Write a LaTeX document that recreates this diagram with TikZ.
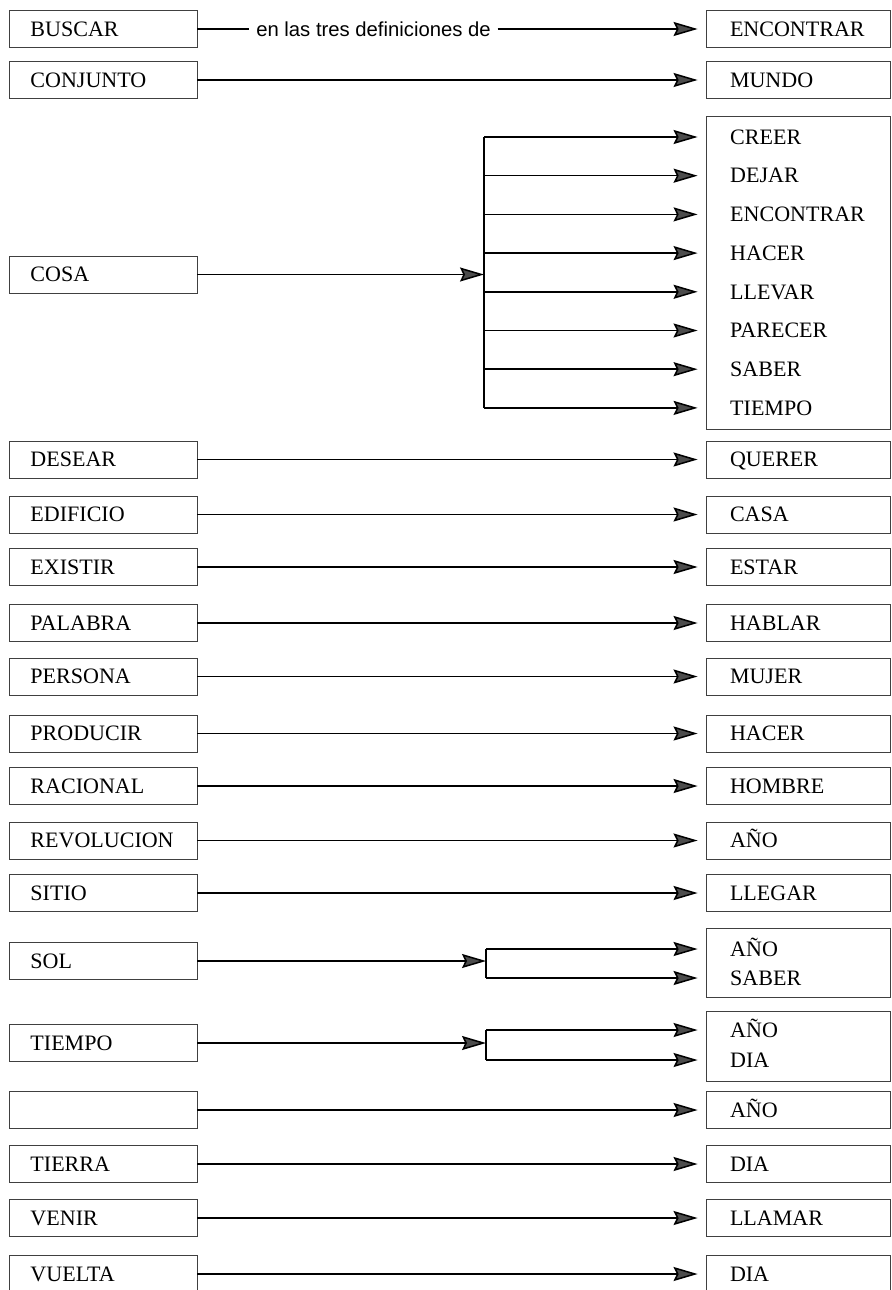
\documentclass[tikz,border=0pt]{standalone}
\usepackage{fontspec}
\setmainfont{Liberation Serif}
\newfontfamily\viafont{Liberation Sans}
\usetikzlibrary{arrows.meta}

\tikzset{
  word/.style={draw=black!75, line width=0.7pt, rectangle, align=left,
    minimum height=1.11cm, text height=12.4pt, text depth=0pt,
    font=\fontsize{18.8}{22}\selectfont},
  lbox/.style={word, text width=4.35cm, inner xsep=0.645cm, minimum width=5.64cm},
  rbox/.style={word, text width=4.08cm, inner xsep=0.72cm, minimum width=5.52cm},
  listbox/.style={draw=black!75, line width=0.7pt, minimum width=5.52cm, inner sep=0pt},
  entry/.style={anchor=west, inner sep=0pt, text height=12.4pt, text depth=0pt,
    font=\fontsize{18.8}{22}\selectfont},
  arr/.style={line width=1.3pt,
    -{Stealth[length=0.72cm,width=0.42cm,inset=0.1cm,fill=black!70]},
    shorten >=0.24cm},
  fork/.style={line width=1.3pt},
}

\begin{document}
\begin{tikzpicture}[x=0.03cm, y=-0.03cm]
  \clip (0,0) rectangle (891,1290);

  % first row, with the remark on the arrow
  \node[lbox] (buscar) at (103,29) {BUSCAR};
  \node[rbox] (buscar-r) at (798,29) {ENCONTRAR};
  \node[font=\viafont\fontsize{17.3}{20}\selectfont, fill=white,
    inner xsep=0.2cm, inner ysep=0pt] (via) at (373.5,29) {en las tres definiciones de};
  \draw[arr] (buscar) -- (via) -- (buscar-r);

  % one word to one word
  \foreach \y/\a/\b/\n in {80/CONJUNTO/MUNDO/conjunto,
      459.5/DESEAR/QUERER/desear, 514.5/EDIFICIO/CASA/edificio,
      567/EXISTIR/ESTAR/existir, 623/PALABRA/HABLAR/palabra,
      676.5/PERSONA/MUJER/persona, 733.5/PRODUCIR/HACER/producir,
      786/RACIONAL/HOMBRE/racional, 840.5/REVOLUCION/AÑO/revolucion,
      893/SITIO/LLEGAR/sitio, 1110/ /AÑO/vacio,
      1164/TIERRA/DIA/tierra, 1218/VENIR/LLAMAR/venir,
      1274/VUELTA/DIA/vuelta}{
    \node[lbox] (\n) at (103,\y) {\a};
    \node[rbox] (\n-r) at (798,\y) {\b};
    \draw[arr] (\n) -- (\n-r);
  }

  % COSA
  \node[lbox] (cosa) at (103,274.5) {COSA};
  \node[listbox, minimum height=9.39cm] (cosa-r) at (798,272.5) {};
  \coordinate (cosa-fork) at (484,274.5);
  \draw[arr, shorten >=0pt] (cosa) -- (cosa-fork);
  \foreach \w [count=\i from 0] in {CREER,DEJAR,ENCONTRAR,HACER,LLEVAR,PARECER,SABER,TIEMPO}{
    \node[entry] (cosa-\i) at (730,137+38.7*\i) {\w};
    \draw[arr] (cosa-fork |- cosa-\i) -- (cosa-\i -| cosa-r.west);
  }
  \draw[fork] (cosa-fork |- cosa-0) -- (cosa-fork |- cosa-7);

  % SOL
  \node[lbox] (sol) at (103,961) {SOL};
  \node[listbox, minimum height=2.07cm] (sol-r) at (798,962.5) {};
  \coordinate (sol-fork) at (486,961);
  \draw[arr, shorten >=0pt] (sol) -- (sol-fork);
  \node[entry] (sol-0) at (730,949) {AÑO};
  \node[entry] (sol-1) at (730,978) {SABER};
  \draw[arr] (sol-fork |- sol-0) -- (sol-0 -| sol-r.west);
  \draw[arr] (sol-fork |- sol-1) -- (sol-1 -| sol-r.west);
  \draw[fork] (sol-fork |- sol-0) -- (sol-fork |- sol-1);

  % TIEMPO
  \node[lbox] (tiempo) at (103,1043) {TIEMPO};
  \node[listbox, minimum height=2.1cm] (tiempo-r) at (798,1046) {};
  \coordinate (tiempo-fork) at (486,1043);
  \draw[arr, shorten >=0pt] (tiempo) -- (tiempo-fork);
  \node[entry] (tiempo-0) at (730,1030) {AÑO};
  \node[entry] (tiempo-1) at (730,1060) {DIA};
  \draw[arr] (tiempo-fork |- tiempo-0) -- (tiempo-0 -| tiempo-r.west);
  \draw[arr] (tiempo-fork |- tiempo-1) -- (tiempo-1 -| tiempo-r.west);
  \draw[fork] (tiempo-fork |- tiempo-0) -- (tiempo-fork |- tiempo-1);
\end{tikzpicture}
\end{document}
